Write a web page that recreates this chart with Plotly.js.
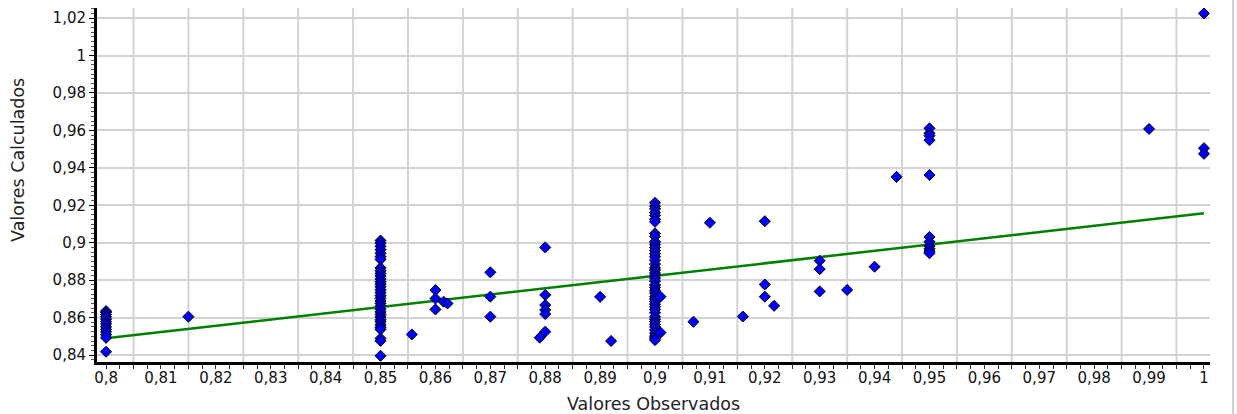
<!DOCTYPE html>
<html>
<head>
<meta charset="utf-8">
<script src="https://cdn.plot.ly/plotly-3.0.1.min.js"></script>
<style>
  html, body { margin: 0; padding: 0; background: #ffffff; }
  #chart { width: 1237px; height: 414px; }
</style>
</head>
<body>
<div id="chart"></div>
<script>
// Observed values (x) and calculated values (y), paired point by point
const observed = [
  0.8,0.8,0.8,0.8,0.8,0.8,0.8,0.8,0.8,0.8,0.8,0.8,0.8,
  0.815,
  0.85,0.85,0.85,0.85,0.85,0.85,0.85,0.85,0.85,0.85,0.85,0.85,0.85,0.85,0.85,0.85,0.85,
  0.85,0.85,0.85,0.85,0.85,0.85,0.85,0.85,0.85,0.85,0.85,0.85,0.85,0.85,0.85,0.85,0.85,
  0.8557,
  0.86,0.86,0.86,0.8615,0.8622,
  0.87,0.87,0.87,
  0.88,0.88,0.88,0.88,0.88,0.88,0.879,
  0.89,0.892,
  0.9,0.9,0.9,0.9,0.9,0.9,0.9,0.9,0.9,0.9,0.9,0.9,0.9,0.9,0.9,0.9,0.9,0.9,0.9,0.9,0.9,0.9,
  0.9,0.9,0.9,0.9,0.9,0.9,0.9,0.9,0.9,0.9,0.9,0.9,0.9,0.9,0.9,0.9,0.9,0.9,0.9,0.9,0.9,0.9,
  0.901,0.901,
  0.907,0.91,0.916,
  0.92,0.92,0.92,0.9217,
  0.93,0.93,0.93,0.935,0.94,0.944,
  0.95,0.95,0.95,0.95,0.95,0.95,0.95,0.95,0.95,0.95,0.95,
  0.99,
  1.0,1.0,1.0
];
const calculated = [
  0.8635,0.8628,0.8617,0.8605,0.8592,0.8578,0.8566,0.8551,0.8537,0.8524,0.8508,0.8492,0.8418,
  0.8605,
  0.9012,0.8998,0.8981,0.8963,0.8944,0.8926,0.8911,0.8866,0.8851,0.8836,0.8822,0.8806,0.8792,0.8778,0.8765,0.8749,0.8734,
  0.8718,0.8703,0.8689,0.8676,0.8661,0.8645,0.8631,0.8617,0.8604,0.8589,0.8578,0.8562,0.8548,0.8537,0.8489,0.8476,0.8396,
  0.8510,
  0.8747,0.8702,0.8644,0.8685,0.8676,
  0.8842,0.8712,0.8605,
  0.8975,0.8721,0.8667,0.8641,0.8619,0.8525,0.8493,
  0.8711,0.8475,
  0.9214,0.9195,0.9181,0.9162,0.9146,0.9126,0.9112,0.9050,0.9034,0.9005,0.8991,0.8975,0.8958,0.8941,0.8925,0.8907,0.8886,0.8866,0.8854,0.8839,0.8827,0.8811,
  0.8795,0.8774,0.8761,0.8745,0.8731,0.8712,0.8699,0.8686,0.8672,0.8658,0.8644,0.8626,0.8605,0.8591,0.8578,0.8563,0.8551,0.8534,0.8516,0.8501,0.8490,0.8480,
  0.8712,0.8520,
  0.8578,0.9107,0.8606,
  0.9115,0.8777,0.8712,0.8663,
  0.8904,0.8859,0.8740,0.8748,0.8872,0.9352,
  0.9611,0.9585,0.9572,0.9548,0.9362,0.9031,0.9005,0.8982,0.8968,0.8955,0.8944,
  0.9608,
  1.0225,0.9505,0.9475
];
// Fitted regression line end points
const fitX = [0.8, 1.0];
const fitY = [0.8490, 0.9157];

// Axis tick values and labels
const xTickVals = [0.8,0.81,0.82,0.83,0.84,0.85,0.86,0.87,0.88,0.89,0.9,0.91,0.92,0.93,0.94,0.95,0.96,0.97,0.98,0.99,1.0];
const xTickText = ["0,8","0,81","0,82","0,83","0,84","0,85","0,86","0,87","0,88","0,89","0,9","0,91","0,92","0,93","0,94","0,95","0,96","0,97","0,98","0,99","1"];
const yTickVals = [0.84,0.86,0.88,0.9,0.92,0.94,0.96,0.98,1.0,1.02];
const yTickText = ["0,84","0,86","0,88","0,9","0,92","0,94","0,96","0,98","1","1,02"];

const FONT = "DejaVu Sans, Verdana, sans-serif";

// vertical grid lines sit halfway between the labelled ticks
const shapes = [];
for (let k = 0; k < xTickVals.length - 1; k++) {
  const gx = (xTickVals[k] + xTickVals[k + 1]) / 2;
  shapes.push({type: 'line', layer: 'below', xref: 'x', yref: 'paper',
    x0: gx, x1: gx, y0: 0, y1: 1, line: {color: '#d2d2d2', width: 2}});
}
// right panel border
shapes.push({type: 'line', layer: 'below', xref: 'paper', yref: 'paper',
  x0: 1.0207, x1: 1.0207, y0: -0.147, y1: 1.023, line: {color: '#cfcfcf', width: 2}});

const traces = [
  {
    x: fitX, y: fitY, type: 'scatter', mode: 'lines',
    line: {color: '#008000', width: 2.5},
    hoverinfo: 'skip', showlegend: false
  },
  {
    x: observed, y: calculated, type: 'scatter', mode: 'markers',
    marker: {symbol: 'diamond', size: 8.5, color: '#0000ff', line: {color: '#000000', width: 1}},
    hoverinfo: 'x+y', showlegend: false
  }
];

const layout = {
  width: 1237, height: 414,
  margin: {l: 97, r: 27, t: 8, b: 52},
  paper_bgcolor: '#ffffff', plot_bgcolor: '#ffffff',
  separators: ',.',
  font: {family: FONT, size: 15, color: '#000000'},
  showlegend: false,
  xaxis: {
    range: [0.79835, 1.0011], tickmode: 'array', tickvals: xTickVals, ticktext: xTickText,
    showgrid: false, zeroline: false, showline: true, linecolor: '#000000', linewidth: 3,
    ticks: '', tickfont: {family: FONT, size: 15, color: '#111111'},
    minor: {tick0: 0.8, dtick: 0.0025, ticks: 'outside', ticklen: 4, tickcolor: '#333333', tickwidth: 1, showgrid: false}
  },
  yaxis: {
    range: [0.8363, 1.0254], tickmode: 'array', tickvals: yTickVals, ticktext: yTickText,
    showgrid: true, gridcolor: '#d2d2d2', gridwidth: 2, zeroline: false,
    showline: true, linecolor: '#000000', linewidth: 3,
    ticks: 'outside', ticklen: 5, tickcolor: '#000000', tickwidth: 1,
    tickfont: {family: FONT, size: 15, color: '#111111'},
    minor: {tick0: 0.84, dtick: 0.0025, ticks: 'outside', ticklen: 3, tickcolor: '#555555', tickwidth: 1, showgrid: false}
  },
  shapes: shapes,
  annotations: [
    {text: 'Valores Observados', xref: 'paper', yref: 'paper', x: 0.5, y: -0.1186,
     xanchor: 'center', yanchor: 'middle', showarrow: false,
     font: {family: FONT, size: 17.5, color: '#222222'}},
    {text: 'Valores Calculados', xref: 'paper', yref: 'paper', x: -0.071, y: 0.5706,
     xanchor: 'center', yanchor: 'middle', textangle: -90, showarrow: false,
     font: {family: FONT, size: 17.5, color: '#222222'}}
  ]
};

Plotly.newPlot('chart', traces, layout, {displayModeBar: false, staticPlot: true});
</script>
</body>
</html>
